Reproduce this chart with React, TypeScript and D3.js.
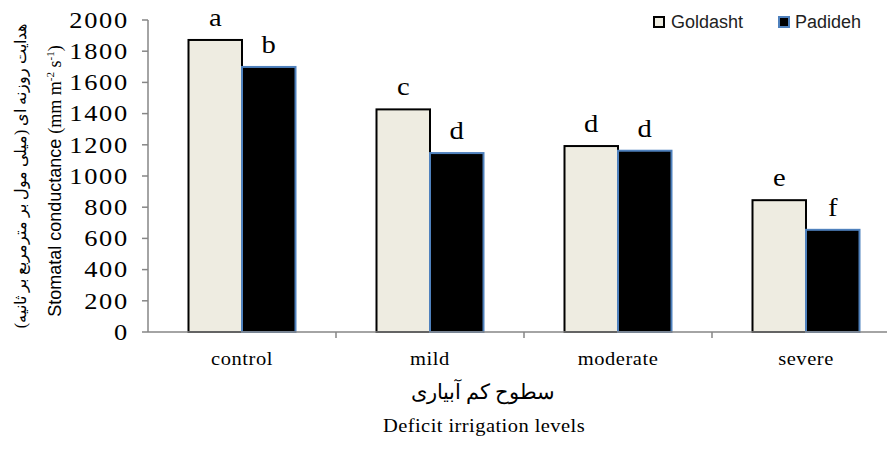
import React from "react";
import * as d3 from "d3";

const categories = ["control", "mild", "moderate", "severe"];
const seriesNames = ["Goldasht", "Padideh"];
const goldasht = [1872, 1427, 1192, 845];
const padideh = [1699, 1147, 1162, 655];
const goldashtLetters = ["a", "c", "d", "e"];
const padidehLetters = ["b", "d", "d", "f"];
const yTicks = [0, 200, 400, 600, 800, 1000, 1200, 1400, 1600, 1800, 2000];

const W = 887;
const H = 449;
const serif = "'Liberation Serif', 'Times New Roman', serif";
const sans = "'Liberation Sans', Arial, sans-serif";

function SText(props: { x: number; y: number; sx: number; size: number; anchor?: string; family?: string; dy?: string; ls?: number; children: React.ReactNode; dir?: string }) {
  return (
    <text
      transform={`translate(${props.x},${props.y}) scale(${props.sx},1)`}
      textAnchor={props.anchor || "middle"}
      fontFamily={props.family || serif}
      fontSize={props.size}
      dy={props.dy}
      letterSpacing={props.ls}
      direction={props.dir as any}
      fill="#000"
    >
      {props.children}
    </text>
  );
}

export default function App() {
  const x0 = 148;
  const band = 188;
  const x = d3.scaleBand<string>().domain(categories).range([x0, x0 + band * 4]).paddingInner(0).paddingOuter(0);
  const y = d3.scaleLinear().domain([0, 2000]).range([332, 20]);
  const barW = 53.5;
  const series = [
    { name: seriesNames[0], values: goldasht, letters: goldashtLetters, fill: "#eeece1", stroke: "#000000" },
    { name: seriesNames[1], values: padideh, letters: padidehLetters, fill: "#000000", stroke: "#4f81bd" },
  ];
  const axisColor = "#868686";
  return (
    <svg width={W} height={H} style={{ position: "absolute", left: 0, top: 0, background: "#fff" }}>
      {series.map((s, si) =>
        categories.map((c, ci) => {
          const cx = (x(c) as number) + x.bandwidth() / 2;
          const bx = cx - barW + si * barW;
          const top = y(s.values[ci]);
          return (
            <g key={s.name + c}>
              <rect x={bx} y={top} width={barW} height={y(0) - top} fill={s.fill} stroke={s.stroke} strokeWidth={2} />
              <SText x={bx + barW / 2} y={top - 14} sx={1.1} size={26}>
                {s.letters[ci]}
              </SText>
            </g>
          );
        })
      )}
      <line x1={x0} x2={x0} y1={y(2000)} y2={y(0)} stroke={axisColor} strokeWidth={1.5} />
      {yTicks.map((t) => (
        <g key={t}>
          <line x1={x0 - 6} x2={x0} y1={y(t)} y2={y(t)} stroke={axisColor} strokeWidth={1.5} />
          <SText x={129} y={y(t)} dy="0.34em" anchor="end" sx={1.15} size={23} ls={1.5}>
            {t}
          </SText>
        </g>
      ))}
      <line x1={x0} x2={W} y1={y(0)} y2={y(0)} stroke={axisColor} strokeWidth={1.5} />
      {categories.map((c, i) => (
        <g key={c}>
          {i > 0 && <line x1={x(c)} x2={x(c)} y1={y(0)} y2={y(0) + 6} stroke={axisColor} strokeWidth={1.5} />}
          <SText x={(x(c) as number) + x.bandwidth() / 2} y={365} sx={1.08} size={19} ls={0.5}>
            {c}
          </SText>
        </g>
      ))}
      <SText x={483} y={399} sx={1} size={21} dir="rtl">
        سطوح کم آبیاری
      </SText>
      <SText x={484} y={432} sx={1.08} size={19} ls={0.4}>
        Deficit irrigation levels
      </SText>
      <text transform="translate(26,176) rotate(-90)" textAnchor="middle" fontFamily={serif} fontSize={16} fill="#000" direction="rtl">
        هدایت روزنه ای (میلی مول بر مترمربع بر ثانیه)
      </text>
      <text transform="translate(61,181) rotate(-90)" textAnchor="middle" fontSize={18} fill="#000">
        <tspan fontFamily={sans}>Stomatal conductance </tspan>
        <tspan fontFamily={serif}>(mm m</tspan>
        <tspan fontFamily={serif} fontSize={11} dy={-7}>-2</tspan>
        <tspan fontFamily={serif} dy={7}> s</tspan>
        <tspan fontFamily={serif} fontSize={11} dy={-7}>-1</tspan>
        <tspan fontFamily={serif} dy={7}>)</tspan>
      </text>
      <rect x={654} y={17} width={10} height={10} fill="#eeece1" stroke="#000" strokeWidth={2} />
      <text x={671} y={28} fontFamily={sans} fontSize={18} fill="#222">Goldasht</text>
      <rect x={779} y={17} width={10} height={10} fill="#000" stroke="#4f81bd" strokeWidth={2} />
      <text x={795} y={28} fontFamily={sans} fontSize={18} fill="#222">Padideh</text>
    </svg>
  );
}
